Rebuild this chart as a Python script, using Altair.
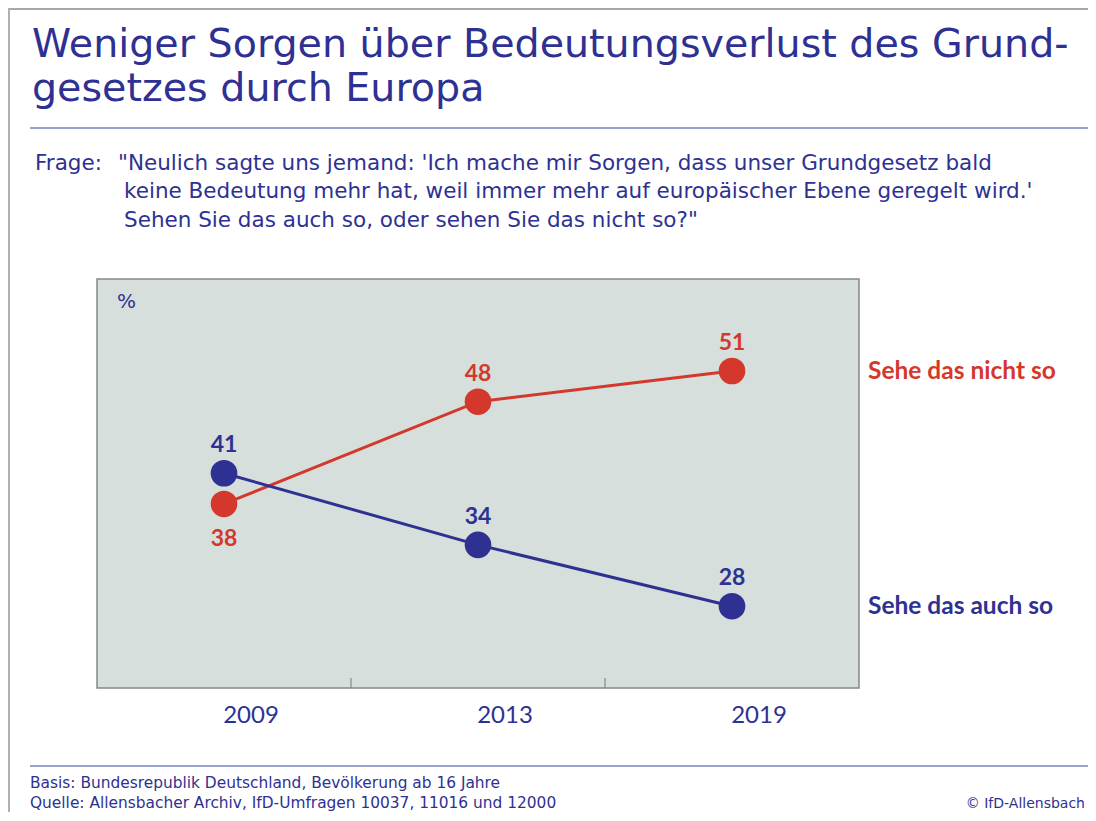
import altair as alt
import pandas as pd

# ---------------- data ----------------
years = ["2009", "2013", "2019"]
series_names = ["Sehe das nicht so", "Sehe das auch so"]
nicht_so = [38, 48, 51]
auch_so = [41, 34, 28]

title_lines = ["Weniger Sorgen über Bedeutungsverlust des Grund-", "gesetzes durch Europa"]
frage_label = "Frage:"
frage_lines = [
    "\"Neulich sagte uns jemand: 'Ich mache mir Sorgen, dass unser Grundgesetz bald",
    "keine Bedeutung mehr hat, weil immer mehr auf europäischer Ebene geregelt wird.'",
    "Sehen Sie das auch so, oder sehen Sie das nicht so?\"",
]
footer_lines = [
    "Basis: Bundesrepublik Deutschland, Bevölkerung ab 16 Jahre",
    "Quelle: Allensbacher Archiv, IfD-Umfragen 10037, 11016 und 12000",
]
copyright_text = "© IfD-Allensbach"
unit_label = "%"

BLUE = "#2e3192"
RED = "#d4382c"
BG = "#d6dfdb"
RULE = "#7b80c4"
FONT = "DejaVu Sans"
BFONT = "Lato"

rows = []
for s, vals in zip(series_names, [nicht_so, auch_so]):
    for y, v in zip(years, vals):
        rows.append({"year": y, "series": s, "value": v})
df = pd.DataFrame(rows)

W, H = 762, 409

xscale = alt.Scale(type="band", domain=years, paddingInner=0, paddingOuter=0)
yscale = alt.Scale(domain=[20, 60])
color = alt.Color("series:N", scale=alt.Scale(domain=series_names, range=[RED, BLUE]), legend=None)

xaxis = alt.Axis(title=None, domain=False, ticks=False, tickSize=0, labelAngle=0,
                 labelFontSize=24, labelColor=BLUE, labelFont=BFONT, labelFontWeight="normal",
                 labelPadding=34, labelBaseline="alphabetic", labelOffset=27)

base = alt.Chart(df)
xpos = alt.X("year:O", scale=xscale, bandPosition=0.5, axis=xaxis)
ypos = alt.Y("value:Q", scale=yscale, axis=None)

lines = base.mark_line(strokeWidth=3).encode(x=xpos, y=ypos, color=color, detail="series:N")
points = base.mark_point(filled=True, size=710, opacity=1).encode(x=xpos, y=ypos, color=color)

above = base.transform_filter(
    "!(datum.series == 'Sehe das nicht so' && datum.year == '2009')"
).mark_text(font=BFONT, fontWeight="bold", fontSize=23, dy=-21, baseline="alphabetic").encode(
    x=xpos, y=ypos, color=color, text="value:Q")
below = base.transform_filter(
    "datum.series == 'Sehe das nicht so' && datum.year == '2009'"
).mark_text(font=BFONT, fontWeight="bold", fontSize=23, dy=42, baseline="alphabetic").encode(
    x=xpos, y=ypos, color=color, text="value:Q")

end_labels = base.transform_filter("datum.year == '2019'").mark_text(
    font=BFONT, fontWeight="bold", fontSize=24.5, align="left", baseline="alphabetic", dy=8
).encode(x=alt.value(771), y=ypos, color=color, text="series:N")

# inner ticks at band boundaries
tick_df = pd.DataFrame({"year": years[1:]})
ticks = alt.Chart(tick_df).mark_rule(color="#888888", strokeWidth=1.2).encode(
    x=alt.X("year:O", scale=xscale, bandPosition=0, axis=xaxis),
    y=alt.value(H - 10), y2=alt.value(H))

one = pd.DataFrame({"k": [0]})


def txt(text, x, y, size, color=BLUE, align="left", weight="normal", font=FONT):
    return alt.Chart(one).mark_text(
        text=text, font=font, fontSize=size, color=color, align=align,
        baseline="alphabetic", fontWeight=weight
    ).encode(x=alt.value(x), y=alt.value(y))


def hrule(y, x1, x2, color, w):
    return alt.Chart(one).mark_rule(color=color, strokeWidth=w).encode(
        x=alt.value(x1), x2=alt.value(x2), y=alt.value(y))


def vrule(x, y1, y2, color, w):
    return alt.Chart(one).mark_rule(color=color, strokeWidth=w).encode(
        x=alt.value(x), y=alt.value(y1), y2=alt.value(y2))


deco = [
    hrule(-270, -88, 1000, "#a8a8a8", 2),
    vrule(-88, -271, 540, "#b0b0b0", 2),
    txt(title_lines[0], -65, -222, 39.6),
    txt(title_lines[1], -65, -178, 39.6),
    hrule(-151, -67, 1000, RULE, 1.5),
    txt(frage_label, -62, -109, 21.5),
    txt(frage_lines[0], 21, -109, 21.5),
    txt(frage_lines[1], 27, -81, 21.5),
    txt(frage_lines[2], 27, -52, 21.5),
    txt(unit_label, 20, 29, 20),
    hrule(487, -67, 1000, RULE, 1.5),
    txt(footer_lines[0], -67, 509, 15.4),
    txt(footer_lines[1], -67, 529, 15.4),
    txt(copyright_text, 988, 529, 14, align="right"),
]

chart = alt.layer(ticks, lines, points, above, below, end_labels, *deco).properties(
    width=W, height=H,
    autosize=alt.AutoSizeParams(type="none"),
    padding={"left": 89, "top": 271, "right": 229, "bottom": 124},
).configure_view(fill=BG, stroke="#888888", strokeWidth=1.5)

chart.save("out.html", embed_options={"renderer": "svg", "actions": False})
